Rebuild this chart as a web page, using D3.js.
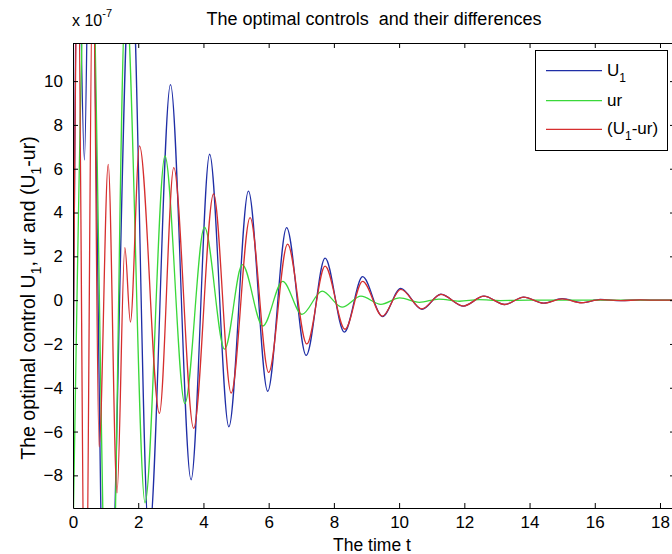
<!DOCTYPE html>
<html>
<head>
<meta charset="utf-8">
<script src="https://cdn.jsdelivr.net/npm/d3@7"></script>
<style>
  body { margin: 0; background: #fff; }
  svg text { font-family: "Liberation Sans", Arial, sans-serif; fill: #000; }
  .line { fill: none; stroke-width: 1.3; stroke-linejoin: round; }
</style>
</head>
<body>
<div id="chart"></div>
<script>
// values, in units of 10^-7 (the axis multiplier)
// U1 (blue)
var tU1 = [0, 0.15, 0.35, 0.52, 1.02, 1.78, 2.33, 2.99, 3.62, 4.19, 4.78, 5.38, 5.97, 6.55, 7.15, 7.73,
           8.32, 8.88, 9.49, 10.05, 10.7, 11.28, 11.97, 12.6, 13.24, 13.82, 14.43, 15.0, 15.6, 16.17, 16.8, 17.4, 18.0, 18.5];
var valU1 = [-5, 18, 6.4, 20, -20, 16, -10.8, 9.84, -8.2, 6.66, -5.78, 4.98, -4.16, 3.31, -2.52, 1.92,
             -1.46, 1.07, -0.75, 0.54, -0.42, 0.27, -0.27, 0.18, -0.2, 0.14, -0.14, 0.07, -0.11, 0.03, -0.02, 0.01, 0, 0];

// ur (green)
var tUr = [0, 0.5, 1.12, 1.62, 2.21, 2.82, 3.43, 4.03, 4.65, 5.19, 5.82, 6.43, 7.02, 7.64, 8.25, 8.83,
           9.44, 10.02, 10.62, 11.22, 11.85, 12.45, 13.1, 14, 15, 16, 17, 18.5];
var valUr = [-11, 20, -20, 14, -9.25, 6.58, -4.72, 3.33, -2.24, 1.62, -1.18, 0.86, -0.65, 0.41, -0.32, 0.18,
             -0.19, 0.1, -0.1, 0.05, -0.05, 0.02, -0.02, 0, 0, 0, 0, 0];

// (U1 - ur) (red)
var tDiff = [0, 0.15, 0.38, 0.61, 0.8, 1.08, 1.35, 1.59, 1.76, 2.04, 2.65, 3.09, 3.70, 4.31, 4.85, 5.43,
             6.0, 6.58, 7.17, 7.73, 8.34, 8.88, 9.49, 10.05, 10.7, 11.28, 11.97, 12.6, 13.24, 13.82, 14.43,
             15.0, 15.6, 16.17, 16.8, 17.4, 18.0, 18.5];
var valDiff = [-4, 16, -18, 16, -6.7, 6.2, -8.8, 2.4, -1.0, 7.04, -5.17, 6.05, -5.85, 4.85, -4.24, 3.77,
               -3.3, 2.56, -2.0, 1.55, -1.33, 0.86, -0.73, 0.49, -0.4, 0.26, -0.27, 0.18, -0.2, 0.14, -0.14,
               0.06, -0.12, 0.02, -0.02, 0.01, 0, 0];

var xTicks = [0, 2, 4, 6, 8, 10, 12, 14, 16, 18];
var yTicks = [-8, -6, -4, -2, 0, 2, 4, 6, 8, 10];
var legendLabels = ["U1", "ur", "(U1-ur)"];
var colors = ["#1f2ea6", "#3ad83a", "#d62e2e"];

var svgW = 672, svgH = 554;
var margin = {top: 43, left: 73},
    width = 602,
    height = 465;

var svg = d3.select("#chart").append("svg").attr("width", svgW).attr("height", svgH);
var g = svg.append("g").attr("transform", "translate(" + margin.left + "," + margin.top + ")");

var x = d3.scaleLinear().domain([0, 18.46]).range([0, width]);
var y = d3.scaleLinear().domain([-9.49, 11.74]).range([height, 0]);

svg.append("defs").append("clipPath").attr("id", "plotclip")
    .append("rect").attr("width", width).attr("height", height);

// series
function toPoints(ts, vs) {
    return ts.map(function(t, i) { return {t: t, v: vs[i]}; });
}
var series = [
    toPoints(tU1, valU1),
    toPoints(tUr, valUr),
    toPoints(tDiff, valDiff)
];

var line = d3.line()
    .x(function(d) { return x(d.t); })
    .y(function(d) { return y(d.v); })
    .curve(d3.curveMonotoneX);

var plot = g.append("g").attr("clip-path", "url(#plotclip)");
series.forEach(function(s, i) {
    plot.append("path")
        .datum(s)
        .attr("class", "line")
        .style("stroke", colors[i])
        .attr("d", line);
});

// axes, ticks pointing inward like matlab
g.append("g")
    .attr("transform", "translate(0," + height + ")")
    .call(d3.axisBottom(x).tickValues(xTicks).tickSizeInner(-5).tickSizeOuter(0).tickPadding(8));
g.append("g")
    .call(d3.axisLeft(y).tickValues(yTicks).tickSizeInner(-5).tickSizeOuter(0).tickPadding(10));
g.append("g")
    .call(d3.axisTop(x).tickValues(xTicks).tickSizeInner(-5).tickSizeOuter(0).tickFormat(""));
g.append("g")
    .attr("transform", "translate(" + width + ",0)")
    .call(d3.axisRight(y).tickValues(yTicks).tickSizeInner(-5).tickSizeOuter(0).tickFormat(""));

g.selectAll(".tick text").style("font-size", "17px").style("font-family", "Liberation Sans, Arial, sans-serif");
g.selectAll(".domain, .tick line").attr("stroke", "#000");

// multiplier
var mult = svg.append("text").attr("x", 72).attr("y", 26).style("font-size", "16px");
mult.append("tspan").text("x 10");
mult.append("tspan").attr("dy", -9).style("font-size", "11px").text("-7");

// title
svg.append("text")
    .attr("x", margin.left + width / 2)
    .attr("y", 25)
    .attr("text-anchor", "middle")
    .style("font-size", "18px")
    .text("The optimal controls\u00a0 and their differences");

// x label
svg.append("text")
    .attr("x", margin.left + width / 2 - 2)
    .attr("y", 551)
    .attr("text-anchor", "middle")
    .style("font-size", "17.5px")
    .text("The time t");

// y label with subscripts
var yl = svg.append("text")
    .attr("transform", "translate(35,298) rotate(-90)")
    .attr("text-anchor", "middle")
    .style("font-size", "19.5px");
yl.append("tspan").text("The optimal control U");
yl.append("tspan").attr("dy", 6).style("font-size", "14px").text("1");
yl.append("tspan").attr("dy", -6).text(", ur and (U");
yl.append("tspan").attr("dy", 6).style("font-size", "14px").text("1");
yl.append("tspan").attr("dy", -6).text("-ur)");

// legend
var lg = svg.append("g");
lg.append("rect")
    .attr("x", 535.5).attr("y", 50.5).attr("width", 132).attr("height", 100)
    .attr("fill", "#fff").attr("stroke", "#000");
var rowsY = [70.7, 100.7, 129.3];
legendLabels.forEach(function(lab, i) {
    lg.append("line")
        .attr("x1", 546).attr("x2", 602)
        .attr("y1", rowsY[i]).attr("y2", rowsY[i])
        .attr("stroke", colors[i]).attr("stroke-width", 1.3);
    var t = lg.append("text").attr("x", 607).attr("y", rowsY[i] + 5).style("font-size", "17px");
    // subscript the "1" after U
    var parts = lab.split("U1");
    if (parts.length > 1) {
        t.append("tspan").text(parts[0] + "U");
        t.append("tspan").attr("dy", 6).style("font-size", "12px").text("1");
        t.append("tspan").attr("dy", -6).text(parts[1]);
    } else {
        t.text(lab);
    }
});
</script>
</body>
</html>
